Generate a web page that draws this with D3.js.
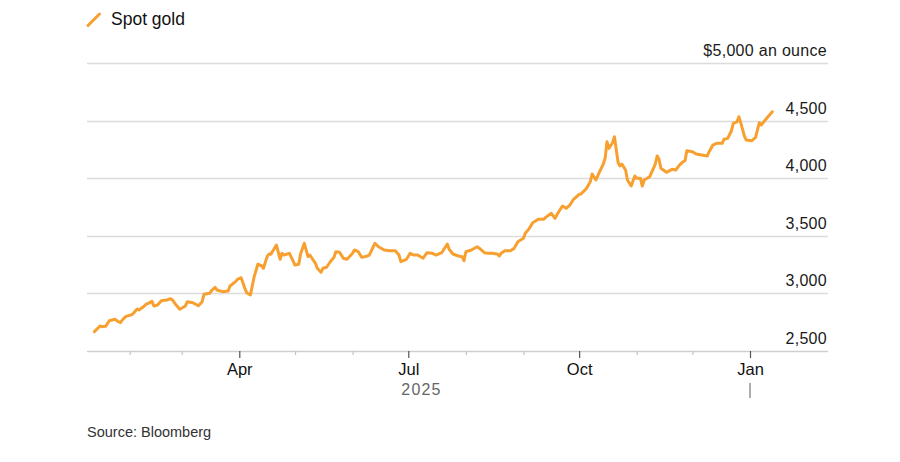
<!DOCTYPE html>
<html>
<head>
<meta charset="utf-8">
<script src="https://cdn.jsdelivr.net/npm/d3@7/dist/d3.min.js"></script>
<style>
  html, body { margin: 0; padding: 0; background: #fff; }
  svg { display: block; font-family: "Liberation Sans", Arial, sans-serif; }
</style>
</head>
<body>
<svg id="chart" width="900" height="462"></svg>
<script>
// ---- data ----
const seriesName = "Spot gold";
const dates = [
 "2025-01-13","2025-01-16","2025-01-17","2025-01-19","2025-01-21","2025-01-24","2025-01-26","2025-01-27","2025-01-28","2025-01-30",
 "2025-02-02","2025-02-03","2025-02-05","2025-02-06","2025-02-08","2025-02-10","2025-02-11","2025-02-13","2025-02-14","2025-02-16",
 "2025-02-18","2025-02-21","2025-02-23","2025-02-24","2025-02-26","2025-02-28","2025-03-03","2025-03-04","2025-03-07","2025-03-10",
 "2025-03-12","2025-03-13","2025-03-16","2025-03-17","2025-03-19","2025-03-20","2025-03-23","2025-03-26","2025-03-27","2025-03-30",
 "2025-03-31","2025-04-02","2025-04-04","2025-04-05","2025-04-07","2025-04-09","2025-04-11","2025-04-13","2025-04-14","2025-04-16",
 "2025-04-17","2025-04-18","2025-04-21","2025-04-23","2025-04-24","2025-04-25","2025-04-28","2025-05-01","2025-05-03","2025-05-04",
 "2025-05-06","2025-05-08","2025-05-09","2025-05-12","2025-05-13","2025-05-15","2025-05-16","2025-05-18","2025-05-20","2025-05-22",
 "2025-05-23","2025-05-25","2025-05-27","2025-05-29","2025-05-30","2025-06-01","2025-06-02","2025-06-04","2025-06-06","2025-06-09",
 "2025-06-10","2025-06-13","2025-06-15","2025-06-18","2025-06-21","2025-06-24","2025-06-26","2025-06-27","2025-06-30","2025-07-02",
 "2025-07-04","2025-07-06","2025-07-09","2025-07-11","2025-07-14","2025-07-16","2025-07-19","2025-07-22","2025-07-23","2025-07-25",
 "2025-07-28","2025-07-30","2025-07-31","2025-08-01","2025-08-04","2025-08-07","2025-08-09","2025-08-11","2025-08-13","2025-08-15",
 "2025-08-18","2025-08-19","2025-08-20","2025-08-22","2025-08-25","2025-08-27","2025-08-29","2025-09-01","2025-09-02","2025-09-04",
 "2025-09-06","2025-09-09","2025-09-12","2025-09-13","2025-09-16","2025-09-18","2025-09-20","2025-09-22","2025-09-24","2025-09-26",
 "2025-09-28","2025-10-01","2025-10-02","2025-10-05","2025-10-07","2025-10-08","2025-10-10","2025-10-12","2025-10-14","2025-10-15",
 "2025-10-16","2025-10-17","2025-10-19","2025-10-20","2025-10-22","2025-10-23","2025-10-24","2025-10-26","2025-10-27","2025-10-29",
 "2025-10-31","2025-11-01","2025-11-03","2025-11-04","2025-11-05","2025-11-08","2025-11-10","2025-11-11","2025-11-12","2025-11-13",
 "2025-11-14","2025-11-17","2025-11-20","2025-11-22","2025-11-24","2025-11-26","2025-11-27","2025-11-28","2025-12-01","2025-12-03",
 "2025-12-06","2025-12-09","2025-12-10","2025-12-12","2025-12-14","2025-12-17","2025-12-18","2025-12-20","2025-12-22","2025-12-23",
 "2025-12-25","2025-12-26","2025-12-27","2025-12-29","2025-12-30","2026-01-02","2026-01-04","2026-01-06","2026-01-07","2026-01-10",
 "2026-01-13"
];
const prices = [
 2668,2717,2711,2714,2763,2775,2754,2746,2769,2801,
 2815,2827,2865,2856,2879,2908,2914,2931,2891,2899,
 2937,2943,2954,2943,2899,2862,2891,2928,2919,2893,
 2928,2992,3001,3023,3053,3029,3015,3021,3064,3102,
 3122,3136,3044,3006,2986,3145,3253,3240,3218,3319,
 3342,3339,3420,3296,3348,3333,3348,3246,3253,3342,
 3435,3319,3333,3261,3218,3183,3218,3227,3275,3313,
 3362,3357,3305,3296,3313,3348,3377,3362,3313,3325,
 3333,3435,3405,3377,3371,3371,3333,3275,3296,3348,
 3333,3333,3305,3353,3348,3333,3353,3429,3383,3342,
 3325,3319,3284,3362,3377,3405,3383,3353,3348,3348,
 3342,3325,3348,3371,3371,3391,3449,3478,3522,3560,
 3614,3643,3643,3660,3695,3652,3709,3759,3739,3767,
 3817,3860,3863,3912,3970,4036,3984,4056,4123,4173,
 4317,4259,4308,4360,4134,4106,4123,4071,3984,3932,
 4019,3999,3999,3932,3984,4013,4086,4123,4193,4164,
 4086,4051,4077,4071,4114,4143,4152,4239,4230,4210,
 4201,4193,4230,4288,4303,4303,4338,4346,4412,4476,
 4490,4534,4482,4366,4331,4325,4355,4482,4462,4520,
 4577
];
const yTicks = [2500, 3000, 3500, 4000, 4500, 5000];
const yUnitLabel = "$5,000 an ounce";
const yearLabel = "2025";
const sourceText = "Source: Bloomberg";

// ---- layout ----
const parse = d3.utcParse("%Y-%m-%d");
const data = dates.map((d, i) => ({ date: parse(d), value: prices[i] }));

const svg = d3.select("#chart");
const plotLeft = 87, plotRight = 828, plotTop = 63, plotBottom = 351;

const x = d3.scaleUtc()
  .domain([parse("2025-01-09"), parse("2026-02-12")])
  .range([plotLeft, plotRight]);
const y = d3.scaleLinear().domain([2500, 5000]).range([plotBottom, plotTop]);

// gridlines
svg.append("g").selectAll("line").data(yTicks).join("line")
  .attr("x1", plotLeft).attr("x2", plotRight)
  .attr("y1", d => Math.round(y(d)) + 0.5).attr("y2", d => Math.round(y(d)) + 0.5)
  .attr("stroke", d => d === 2500 ? "#cfcfcf" : "#dcdcdc")
  .attr("stroke-width", 1.5);

// y labels
const fmt = d3.format(",");
svg.append("g").selectAll("text").data(yTicks).join("text")
  .attr("x", plotRight - 1)
  .attr("y", d => y(d) - 7)
  .attr("text-anchor", "end")
  .attr("font-size", 16)
  .attr("letter-spacing", 0.3)
  .attr("fill", "#1a1a1a")
  .text(d => d === 5000 ? yUnitLabel : fmt(d));

// x axis ticks
const monthTicks = d3.utcMonth.range(parse("2025-02-01"), parse("2026-01-02"));
const isMajor = d => d.getUTCMonth() % 3 === 0;
const xAxis = d3.axisBottom(x)
  .tickValues(monthTicks)
  .tickSize(0)
  .tickFormat("");
const gx = svg.append("g").attr("transform", `translate(0,${Math.round(plotBottom)})`).call(xAxis);
gx.select(".domain").remove();
gx.selectAll(".tick line")
  .attr("y2", d => isMajor(d) ? 7 : 4)
  .attr("stroke", d => isMajor(d) ? "#555" : "#c4c4c4")
  .attr("stroke-width", 1.2);
gx.selectAll(".tick").filter(d => isMajor(d)).append("text")
  .attr("y", 24)
  .attr("text-anchor", "middle")
  .attr("font-size", 16.5)
  .attr("font-weight", 500)
  .attr("fill", "#111")
  .text(d => d3.utcFormat("%b")(d));

// year label & year separator
const jan26 = parse("2026-01-01");
svg.append("text")
  .attr("x", (x.range()[0] + x(jan26)) / 2 + 3)
  .attr("y", 395)
  .attr("text-anchor", "middle")
  .attr("font-size", 16)
  .attr("letter-spacing", 1.2)
  .attr("fill", "#666")
  .text(yearLabel);
svg.append("line")
  .attr("x1", x(jan26)).attr("x2", x(jan26))
  .attr("y1", 383).attr("y2", 398)
  .attr("stroke", "#777").attr("stroke-width", 1.2);

// line
const line = d3.line().x(d => x(d.date)).y(d => y(d.value)).curve(d3.curveLinear);
svg.append("path").datum(data)
  .attr("d", line)
  .attr("fill", "none")
  .attr("stroke", "#f7a030")
  .attr("stroke-width", 3)
  .attr("stroke-linejoin", "round")
  .attr("stroke-linecap", "round");

// legend
svg.append("line")
  .attr("x1", 88).attr("y1", 25.5).attr("x2", 99.5).attr("y2", 14)
  .attr("stroke", "#f7a030").attr("stroke-width", 3).attr("stroke-linecap", "round");
svg.append("text")
  .attr("x", 111).attr("y", 25)
  .attr("font-size", 17.5)
  .attr("fill", "#111")
  .text(seriesName);

// source
svg.append("text")
  .attr("x", 87).attr("y", 437)
  .attr("font-size", 14.5)
  .attr("fill", "#333")
  .text(sourceText);
</script>
</body>
</html>
